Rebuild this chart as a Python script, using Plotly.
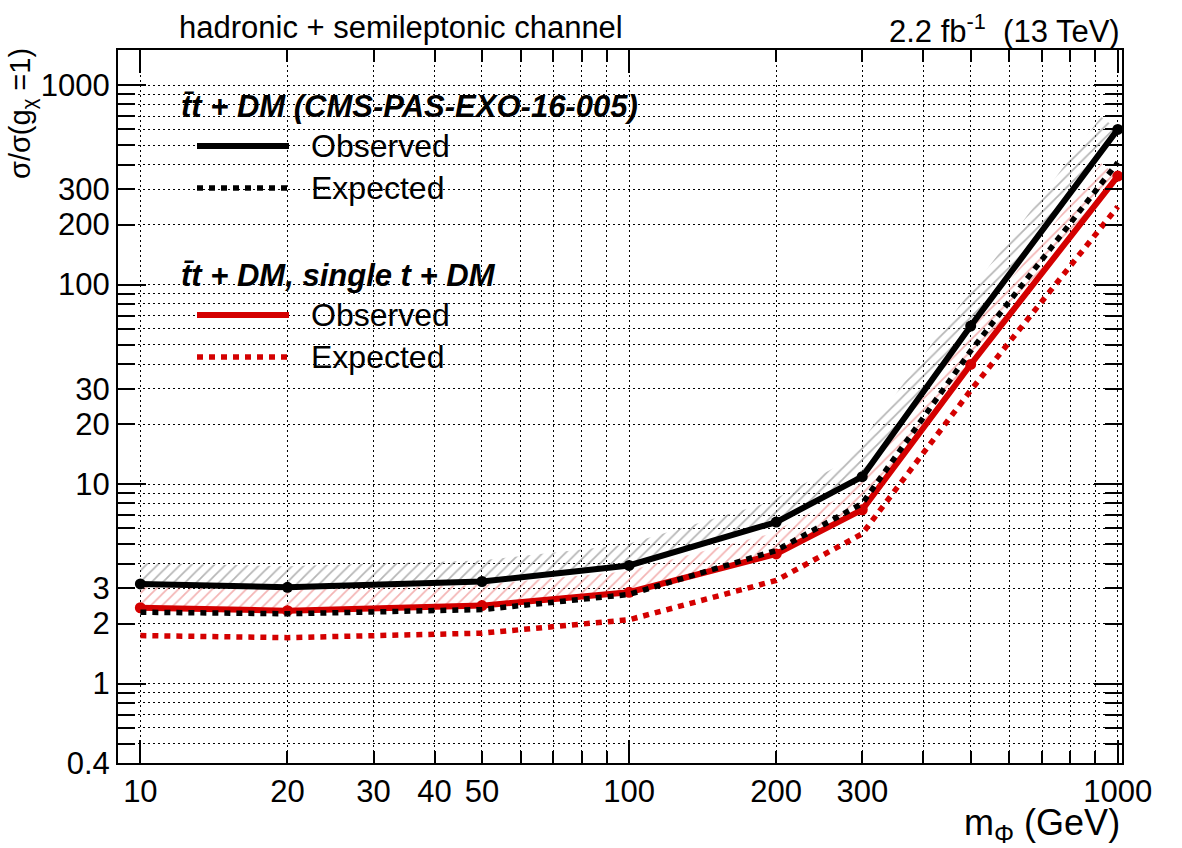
import numpy as np
import plotly.graph_objects as go

# ---------------- data ----------------
mass = [10, 20, 50, 100, 200, 300, 500, 1000]
obs_ttdm = [3.16, 3.04, 3.25, 3.91, 6.45, 10.9, 62.0, 600.0]
exp_ttdm = [2.28, 2.24, 2.35, 2.80, 4.65, 8.0, 46.5, 410.0]
obs_comb = [2.40, 2.32, 2.46, 2.87, 4.47, 7.44, 39.8, 350.0]
exp_comb = [1.74, 1.70, 1.79, 2.09, 3.29, 5.64, 29.5, 246.0]

x_tick_vals = [10, 20, 30, 40, 50, 60, 70, 80, 90, 100, 200, 300, 400, 500,
               600, 700, 800, 900, 1000]
x_tick_labels = ["10", "20", "30", "40", "50", "", "", "", "", "100", "200",
                 "300", "", "", "", "", "", "", "1000"]
y_tick_vals = [0.4, 0.5, 0.6, 0.7, 0.8, 0.9, 1, 2, 3, 4, 5, 6, 7, 8, 9,
               10, 20, 30, 40, 50, 60, 70, 80, 90, 100, 200, 300, 400, 500,
               600, 700, 800, 900, 1000]
y_tick_labels = ["0.4", "", "", "", "", "", "1", "2", "3", "", "", "", "", "", "",
                 "10", "20", "30", "", "", "", "", "", "", "100", "200", "300",
                 "", "", "", "", "", "", "1000"]

# ---------------- layout geometry ----------------
W, H = 1182, 848
ML, MR, MT, MB = 118, 60, 50, 85
PW, PH = W - ML - MR, H - MT - MB
XR = [9, 1020]
YR = [0.4, 1500]
FONT = "Liberation Sans, Arial, Helvetica, sans-serif"


def px_x(px):
    return (px - ML) / PW


def px_y(py):
    return (H - MB - py) / PH


def hatch_strip(xs, ys, width_px):
    """Polygon of a strip of constant screen width on the upper side of a line."""
    kx = PW / (np.log10(XR[1]) - np.log10(XR[0]))
    ky = PH / (np.log10(YR[1]) - np.log10(YR[0]))
    P = np.column_stack([np.log10(xs) * kx, np.log10(ys) * ky])
    d = P[1:] - P[:-1]
    n = np.column_stack([-d[:, 1], d[:, 0]])
    n /= np.linalg.norm(n, axis=1)[:, None]
    off = np.zeros_like(P)
    for i in range(len(P)):
        if i == 0:
            nv, ln = n[0], width_px
        elif i == len(P) - 1:
            nv, ln = n[-1], width_px
        else:
            s = n[i - 1] + n[i]
            nv = s / np.linalg.norm(s)
            ln = width_px / np.dot(nv, n[i])
        off[i] = P[i] + nv * ln
    ox = 10 ** (off[:, 0] / kx)
    oy = 10 ** (off[:, 1] / ky)
    bx = list(xs) + list(ox[::-1]) + [xs[0]]
    by = list(ys) + list(oy[::-1]) + [ys[0]]
    return bx, by


fig = go.Figure()

# hatched bands
for ys, col in [(obs_ttdm, "#6e6e6e"), (obs_comb, "#e86a6a")]:
    bx, by = hatch_strip(mass, ys, 21)
    fig.add_trace(go.Scatter(
        x=bx, y=by, mode="lines", fill="toself",
        line=dict(width=0, color="rgba(0,0,0,0)"),
        fillcolor="rgba(0,0,0,0)",
        fillpattern=dict(shape="/", fgcolor=col, bgcolor="rgba(0,0,0,0)",
                         size=8, solidity=0.22),
        hoverinfo="skip", showlegend=False))

RED = "#d40000"
DOT = "6px,6px"
fig.add_trace(go.Scatter(x=mass, y=exp_comb, mode="lines",
                         line=dict(color=RED, width=5.5, dash=DOT),
                         showlegend=False))
fig.add_trace(go.Scatter(x=mass, y=obs_comb, mode="lines+markers",
                         line=dict(color=RED, width=6),
                         marker=dict(color=RED, size=11),
                         showlegend=False))
fig.add_trace(go.Scatter(x=mass, y=exp_ttdm, mode="lines",
                         line=dict(color="black", width=5.5, dash=DOT),
                         showlegend=False))
fig.add_trace(go.Scatter(x=mass, y=obs_ttdm, mode="lines+markers",
                         line=dict(color="black", width=6),
                         marker=dict(color="black", size=11),
                         showlegend=False))

axis_common = dict(
    type="log", showline=True, linecolor="black", linewidth=2, mirror="ticks",
    ticks="inside", tickcolor="black", tickwidth=1.5,
    showgrid=True, gridcolor="black", gridwidth=1, griddash="2px,3px",
    tickmode="array", zeroline=False,
    tickfont=dict(family=FONT, size=31, color="black"),
)

fig.update_xaxes(
    **axis_common,
    range=[np.log10(XR[0]), np.log10(XR[1])],
    tickvals=x_tick_vals, ticktext=x_tick_labels, ticklen=12,
    minor=dict(tickmode="array", tickvals=[10, 100, 1000], ticklen=23,
               ticks="inside", tickcolor="black", tickwidth=1.5, showgrid=False),
)
fig.update_yaxes(
    **axis_common,
    range=[np.log10(YR[0]), np.log10(YR[1])],
    tickvals=y_tick_vals, ticktext=y_tick_labels, ticklen=17,
    minor=dict(tickmode="array", tickvals=[1, 10, 100, 1000], ticklen=28,
               ticks="inside", tickcolor="black", tickwidth=1.5, showgrid=False),
)

annotations = [
    dict(text="hadronic + semileptonic channel", x=px_x(177), y=px_y(27),
         xanchor="left", yanchor="middle", font=dict(size=31)),
    dict(text="2.2 fb<sup>-1</sup>  (13 TeV)", x=1.0, y=px_y(29),
         xanchor="right", yanchor="middle", font=dict(size=31)),
    dict(text="m<sub>Φ</sub> (GeV)", x=1.0, y=px_y(825),
         xanchor="right", yanchor="middle", font=dict(size=36)),
    dict(text="σ/σ(g<sub>χ</sub> =1)", x=px_x(22), y=px_y(114), textangle=-90,
         xanchor="center", yanchor="middle", font=dict(size=29)),
    dict(text="<b><i>t\u0304t + DM (CMS-PAS-EXO-16-005)</i></b>", x=px_x(179),
         y=px_y(106), xanchor="left", yanchor="middle", font=dict(size=31)),
    dict(text="Observed", x=px_x(309), y=px_y(146), xanchor="left",
         yanchor="middle", font=dict(size=32)),
    dict(text="Expected", x=px_x(309), y=px_y(188), xanchor="left",
         yanchor="middle", font=dict(size=32)),
    dict(text="<b><i>t\u0304t + DM, single t + DM</i></b>", x=px_x(179),
         y=px_y(275), xanchor="left", yanchor="middle", font=dict(size=31)),
    dict(text="Observed", x=px_x(309), y=px_y(315), xanchor="left",
         yanchor="middle", font=dict(size=32)),
    dict(text="Expected", x=px_x(309), y=px_y(357), xanchor="left",
         yanchor="middle", font=dict(size=32)),
]
for a in annotations:
    a.update(xref="paper", yref="paper", showarrow=False)
    a["font"].update(family=FONT, color="black")

shapes = []
for py, col, dash in [(146, "black", "solid"), (188, "black", DOT),
                      (315, RED, "solid"), (357, RED, DOT)]:
    shapes.append(dict(type="line", xref="paper", yref="paper",
                       x0=px_x(197), x1=px_x(289), y0=px_y(py), y1=px_y(py),
                       line=dict(color=col, width=6 if dash == "solid" else 5.5,
                                 dash=dash)))

fig.update_layout(
    width=W, height=H, autosize=False,
    margin=dict(l=ML, r=MR, t=MT, b=MB),
    paper_bgcolor="white", plot_bgcolor="white",
    annotations=annotations, shapes=shapes,
    font=dict(family=FONT, color="black"),
)

fig.write_html("out.html")
